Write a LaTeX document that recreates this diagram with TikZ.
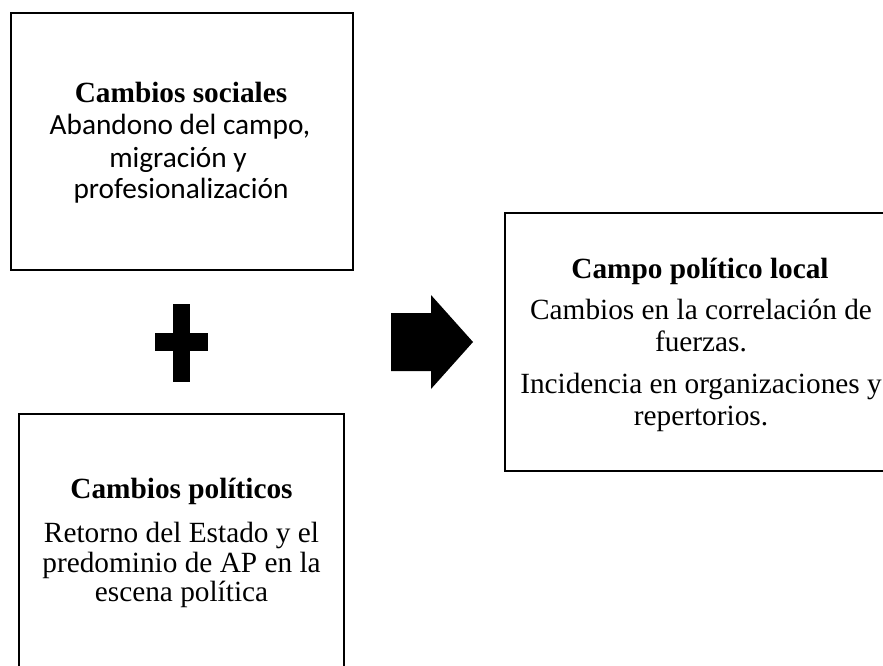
\documentclass[tikz,border=0pt]{standalone}
\usepackage{fontspec}
\setmainfont{Liberation Serif}
\newfontfamily\calibrifont{Carlito}
\begin{document}
\begin{tikzpicture}[x=1pt,y=-1pt,
  boxframe/.style={draw=black,line width=2pt,inner sep=0pt,outer sep=0pt},
  ln/.style={anchor=base,inner sep=0pt,font=\fontsize{29.3}{32}\selectfont},
  ttl/.style={anchor=base,inner sep=0pt,font=\fontsize{29.3}{32}\selectfont\bfseries},
  cal/.style={anchor=base,inner sep=0pt,font=\fontsize{29.3}{32}\selectfont\calibrifont}]
\useasboundingbox (0,0) rectangle (883,666);
\clip (0,0) rectangle (883,666);

% boxes
\node[boxframe,minimum width=342pt,minimum height=257pt] (social) at (182,141.5) {};
\node[boxframe,minimum width=325pt,minimum height=286pt] (politico) at (181.5,557) {};
\node[boxframe,minimum width=390pt,minimum height=258pt] (campo) at (700,342) {};

% box 1 text
\node[ttl] (s1) at (181,102.5) {Cambios sociales};
\node[cal] (s2) at (180,135) {Abandono del campo,};
\node[cal] (s3) at (178,167) {migración y};
\node[cal] (s4) at (181,198) {profesionalización};

% box 2 text
\node[ttl] (p1) at (181.5,498) {Cambios políticos};
\node[ln] (p2) at (181.5,542) {Retorno del Estado y el};
\node[ln] (p3) at (181.5,572) {predominio de AP en la};
\node[ln] (p4) at (181.5,601) {escena política};

% box 3 text
\node[ttl] (c1) at (700,278) {Campo político local};
\node[ln] (c2) at (701,319) {Cambios en la correlación de};
\node[ln] (c3) at (701,351) {fuerzas.};
\node[ln] (c4) at (701,393) {Incidencia en organizaciones y};
\node[ln] (c5) at (701,425) {repertorios.};

% plus sign
\fill[black] (173,304) rectangle (190,382);
\fill[black] (155,333) rectangle (208,351);

% block arrow
\fill[black] (391,313) -- (431,313) -- (431,295) -- (473,342) -- (431,389) -- (431,371) -- (391,371) -- cycle;
\end{tikzpicture}
\end{document}
